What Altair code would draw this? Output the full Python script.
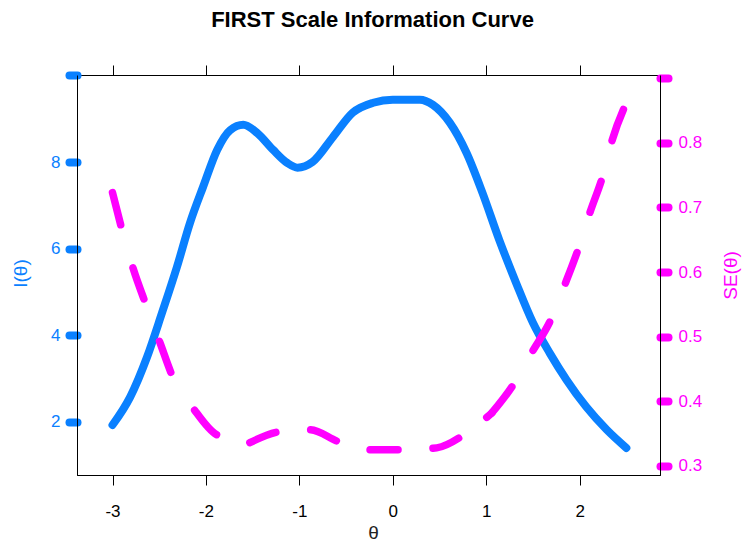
import altair as alt
import pandas as pd

# Information curve I(theta)
theta_info = [-3.0, -2.81, -2.63, -2.47, -2.31, -2.17, -2.03, -1.88, -1.74, -1.60,
              -1.45, -1.28, -1.13, -1.02, -0.86, -0.64, -0.43, -0.21, 0.0, 0.29,
              0.43, 0.61, 0.79, 0.96, 1.14, 1.32, 1.50, 1.68, 1.86, 2.07, 2.29, 2.5]
info = [1.93, 2.58, 3.50, 4.52, 5.58, 6.60, 7.43, 8.28, 8.74, 8.86,
        8.67, 8.28, 7.98, 7.87, 8.00, 8.58, 9.14, 9.37, 9.44, 9.44,
        9.32, 8.91, 8.21, 7.29, 6.20, 5.21, 4.29, 3.59, 2.97, 2.35, 1.82, 1.40]

# Standard error curve SE(theta)
theta_se = [-3.0, -2.89, -2.78, -2.63, -2.49, -2.35, -2.14, -1.88, -1.53, -1.21,
            -0.89, -0.57, -0.21, 0.15, 0.47, 0.79, 1.06, 1.30, 1.49, 1.70,
            1.84, 2.00, 2.11, 2.25, 2.35, 2.5]
se = [0.723, 0.661, 0.606, 0.545, 0.490, 0.436, 0.390, 0.348, 0.336, 0.353,
      0.356, 0.337, 0.325, 0.325, 0.328, 0.351, 0.382, 0.428, 0.476, 0.529,
      0.580, 0.642, 0.692, 0.750, 0.805, 0.862]
# the dashed SE line is drawn in three runs (the dashes are longer on the steep sides)
se_runs = [("a", 0, 8), ("b", 8, 16), ("c", 16, 25)]
run_dashes = [[33, 45], [28, 35], [33, 42]]

x_ticks = [-3, -2, -1, 0, 1, 2]
info_ticks = [2, 4, 6, 8, 10]
se_ticks = [0.3, 0.4, 0.5, 0.6, 0.7, 0.8, 0.9]
title_text = ["FIRST Scale Information Curve"]

BLUE = "#0A80FF"
MAG = "#FF00FF"
FONT = "Liberation Sans"

df_i = pd.DataFrame({"theta": theta_info, "info": info})
rows = []
for name, i0, i1 in se_runs:
    for k in range(i0, i1 + 1):
        rows.append({"theta": theta_se[k], "se": se[k], "run": name})
df_s = pd.DataFrame(rows)
df_t = pd.DataFrame({"label": title_text})

xscale = alt.Scale(domain=[-3.38, 2.86], nice=False, zero=False)

info_line = alt.Chart(df_i).mark_line(
    color=BLUE, strokeWidth=8, strokeCap="round", strokeJoin="round", interpolate="monotone"
).encode(
    x=alt.X("theta:Q", scale=xscale, axis=alt.Axis(
        orient="bottom", values=x_ticks, labelExpr="datum.value + ''",
        tickSize=10, tickColor="black", tickWidth=1,
        domainColor="black", domainWidth=1, labelColor="black", labelFontSize=17, labelFont=FONT,
        labelPadding=18, labelFlush=False, grid=False,
        title="θ", titleFont=FONT, titleFontSize=19, titleFontWeight="normal", titleColor="#222",
        titleX=296, titleY=57, titleBaseline="middle", titleAlign="center")),
    y=alt.Y("info:Q", scale=alt.Scale(domain=[0.776, 10.01], nice=False, zero=False), axis=alt.Axis(
        orient="left", values=info_ticks, labelExpr="datum.value == 10 ? '' : datum.label",
        tickColor=BLUE, tickWidth=8, tickSize=8, tickCap="round",
        domainColor="black", domainWidth=1, labelColor=BLUE, labelFontSize=17, labelFont=FONT,
        labelPadding=9, grid=False,
        title="I(θ)", titleFont=FONT, titleFontSize=19, titleFontWeight="normal", titleColor=BLUE,
        titleX=-57, titleY=198, titleAngle=270, titleBaseline="middle", titleAlign="center")),
)

se_line = alt.Chart(df_s).mark_line(
    color=MAG, strokeWidth=7.5, strokeCap="round", interpolate="monotone"
).encode(
    x=alt.X("theta:Q", scale=xscale, axis=alt.Axis(
        orient="top", values=x_ticks, labels=False, tickSize=10, tickColor="black", tickWidth=1,
        domainColor="black", domainWidth=1, grid=False, title=None)),
    y=alt.Y("se:Q", scale=alt.Scale(domain=[0.286, 0.905], nice=False, zero=False), axis=alt.Axis(
        orient="right", values=se_ticks, labelExpr="datum.value > 0.85 ? '' : datum.label",
        tickColor=MAG, tickWidth=8, tickSize=8, tickCap="round",
        domainColor="black", domainWidth=1, labelColor=MAG, labelFontSize=17, labelFont=FONT,
        labelPadding=10, grid=False,
        title="SE(θ)", titleFont=FONT, titleFontSize=19, titleFontWeight="normal", titleColor=MAG,
        titleX=70, titleY=200, titleAngle=270, titleBaseline="middle", titleAlign="center")),
    strokeDash=alt.StrokeDash("run:N", scale=alt.Scale(domain=[r[0] for r in se_runs], range=run_dashes),
                              legend=None),
    order="theta:Q",
)

title_mark = alt.Chart(df_t).mark_text(
    font=FONT, fontSize=22, fontWeight="bold", color="black",
    align="center", baseline="alphabetic"
).encode(
    text="label:N",
    x=alt.value(295.5),
    y=alt.value(-48),
)

chart = alt.layer(info_line, se_line, title_mark).resolve_scale(
    y="independent"
).resolve_axis(
    x="independent", y="independent"
).properties(
    width=583, height=400,
    autosize=alt.AutoSizeParams(type="none"),
    padding={"left": 69, "top": 67, "right": 82, "bottom": 69},
).configure_view(stroke="black", strokeWidth=1)

chart.save("out.html", embed_options={"renderer": "svg", "actions": False})
